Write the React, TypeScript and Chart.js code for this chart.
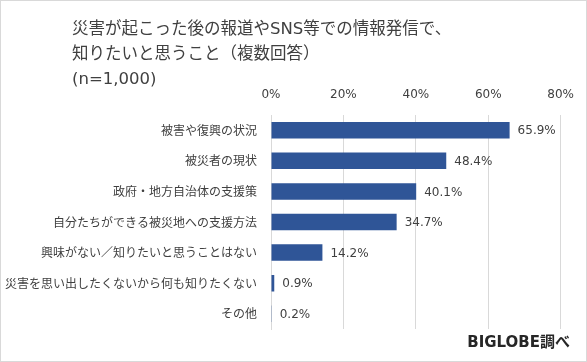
import React, { useEffect, useRef } from "react";
import { Chart, registerables } from "chart.js";

Chart.register(...registerables);

const titleLines = ["災害が起こった後の報道やSNS等での情報発信で、", "知りたいと思うこと（複数回答）", "(n=1,000)"];
const categories = [
  "被害や復興の状況",
  "被災者の現状",
  "政府・地方自治体の支援策",
  "自分たちができる被災地への支援方法",
  "興味がない／知りたいと思うことはない",
  "災害を思い出したくないから何も知りたくない",
  "その他",
];
const values = [65.9, 48.4, 40.1, 34.7, 14.2, 0.9, 0.2];
const sourceText = "BIGLOBE調べ";

const NUM_FONT = '"DejaVu Sans", "Noto Sans CJK JP", sans-serif';
const JP_FONT = '"Noto Sans CJK JP", "DejaVu Sans", sans-serif';

const decorPlugin = {
  id: "decor",
  afterDraw(chart: any) {
    const ctx = chart.ctx;
    ctx.save();
    // border
    ctx.strokeStyle = "#d9d9d9";
    ctx.lineWidth = 1;
    ctx.strokeRect(0.5, 0.5, chart.width - 1, chart.height - 1);
    // title
    ctx.fillStyle = "#404040";
    ctx.font = `16.5px ${NUM_FONT}`;
    ctx.textAlign = "left";
    ctx.textBaseline = "middle";
    const ys = [30, 55, 80];
    titleLines.forEach((t, i) => ctx.fillText(t, 72, ys[i]));
    // data labels
    const meta = chart.getDatasetMeta(0);
    ctx.font = `12px ${NUM_FONT}`;
    ctx.fillStyle = "#404040";
    meta.data.forEach((bar: any, i: number) => {
      ctx.fillText(values[i].toFixed(1) + "%", bar.x + 8, bar.y + 1);
    });
    // source
    ctx.font = `bold 15px ${NUM_FONT}`;
    ctx.fillStyle = "#262626";
    ctx.textAlign = "right";
    ctx.fillText(sourceText, 570, 343);
    ctx.restore();
  },
};

export default function App() {
  const ref = useRef<HTMLCanvasElement>(null);
  useEffect(() => {
    document.body.style.margin = "0";
    const chart = new Chart(ref.current!, {
      type: "bar",
      data: {
        labels: categories,
        datasets: [
          {
            data: values,
            backgroundColor: "#2F5597",
            barPercentage: 0.54,
            categoryPercentage: 1,
          },
        ],
      },
      options: {
        indexAxis: "y",
        animation: false,
        responsive: false,
        layout: { padding: { top: 85, bottom: 33, right: 23, left: 0 } },
        plugins: { legend: { display: false }, tooltip: { enabled: false }, title: { display: false } },
        scales: {
          x: {
            position: "top",
            min: 0,
            max: 80,
            ticks: {
              stepSize: 20,
              callback: (v: any) => v + "%",
              color: "#404040",
              font: { family: NUM_FONT, size: 12 },
              padding: 13,
            },
            grid: { color: "#d9d9d9", drawTicks: false },
            border: { display: false },
            afterFit: (s: any) => {
              s.height = 30;
            },
          },
          y: {
            ticks: {
              color: "#404040",
              font: { family: JP_FONT, size: 12 },
              padding: 14,
              autoSkip: false,
            },
            grid: { display: false, drawTicks: false },
            border: { display: true, color: "#d9d9d9" },
            afterFit: (s: any) => {
              s.width = 271;
            },
          },
        },
      } as any,
      plugins: [decorPlugin],
    });
    return () => chart.destroy();
  }, []);
  return (
    <div style={{ width: 587, height: 362 }}>
      <canvas ref={ref} width={587} height={362} style={{ display: "block" }} />
    </div>
  );
}
